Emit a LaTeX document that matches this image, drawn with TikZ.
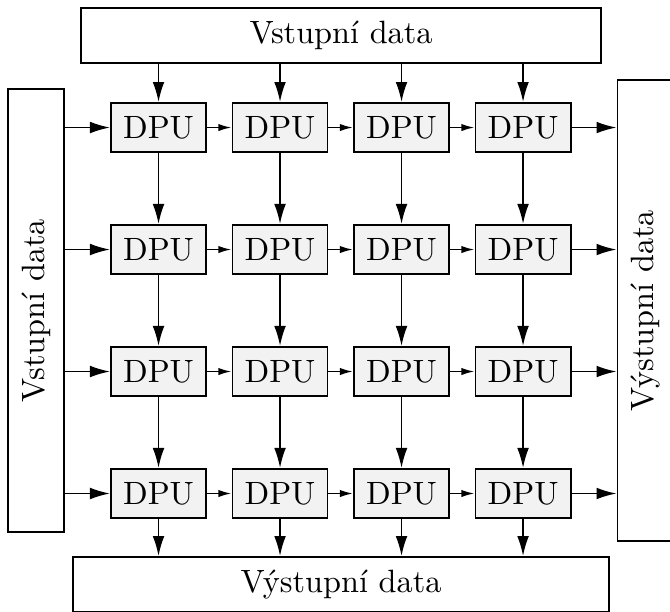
\documentclass[tikz,border=0pt]{standalone}
\usepackage{tikz}
\usetikzlibrary{arrows.meta}

\begin{document}
\begin{tikzpicture}[>={Latex[length=6.5pt,width=3.8pt]},semithick,font=\fontsize{10.45}{12.5}\selectfont,
    dpu/.style={draw,fill=black!5,minimum width=30.8pt,minimum height=15.9pt,inner sep=0},
    iobox/.style={draw,inner sep=0},
    shortarrow/.style={-{Latex[length=4.3pt,width=2.4pt]}}]
    \newcommand{\DX}{1.3835}
    \newcommand{\DY}{1.389}
    \useasboundingbox(0,0)rectangle(7.629,-6.957);
    % DPU grid
    \foreach \i in {1,...,4}{
      \foreach \j in {1,...,4}{
        \node[dpu](dpu-\i-\j)at({1.805+(\i-1)*\DX},{-1.452-(\j-1)*\DY}){DPU};
      }
    }
    % input and output data
    \node[iobox,minimum width=5.921cm,minimum height=0.626cm](in-top)at(3.883,-0.404){Vstupní data};
    \node[iobox,rotate=90,minimum width=5.045cm,minimum height=0.638cm](in-left)at(0.410,-3.536){Vstupní data};
    \node[iobox,rotate=90,minimum width=5.25cm,minimum height=0.638cm](out-right)at(7.350,-3.536){Výstupní data};
    \node[iobox,minimum width=6.103cm,minimum height=0.626cm](out-bottom)at(3.883,-6.656){Výstupní data};
    % arrows from and to the data
    \foreach \i in {1,...,4}{
      \draw[->](in-top.south -| dpu-\i-1.north)--(dpu-\i-1.north);
      \draw[->](dpu-\i-4.south)--(dpu-\i-4.south |- out-bottom.north);
      \draw[->](in-left.south |- dpu-1-\i.west)--(dpu-1-\i.west);
      \draw[->](dpu-4-\i.east)--(dpu-4-\i.east -| out-right.north);
    }
    % arrows between the DPUs
    \foreach \i in {1,...,4}{
      \foreach \j/\k in {1/2,2/3,3/4}{
        \draw[->](dpu-\i-\j.south)--(dpu-\i-\k.north);
        \draw[shortarrow](dpu-\j-\i.east)--(dpu-\k-\i.west);
      }
    }
\end{tikzpicture}
\end{document}
